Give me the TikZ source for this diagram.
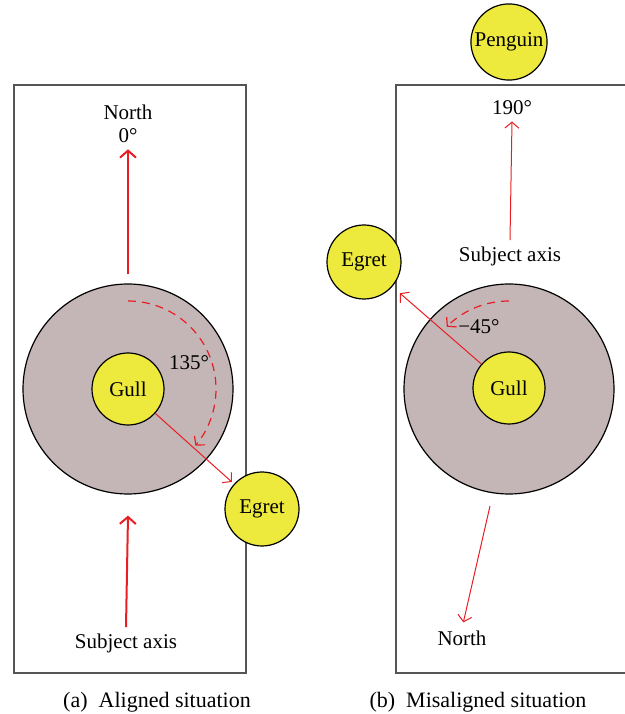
\documentclass[tikz,border=0pt]{standalone}
\usepackage{fontspec}
\setmainfont{Liberation Serif}
\newfontfamily\labelfont{Liberation Serif}
\usetikzlibrary{positioning,arrows.meta}
\definecolor{ringgray}{RGB}{196,182,182}
\definecolor{birdyellow}{RGB}{237,233,61}
\definecolor{arrowred}{RGB}{232,30,36}
\definecolor{boxgray}{RGB}{85,85,85}
\tikzset{mybird/.style={
  shape=circle,
  draw=black,
  fill=birdyellow,
  line width=0.6pt,
  minimum size=37pt,
  inner sep=0pt,
  text = black,
  },
  myring/.style={
  shape=circle,
  draw=black,
  fill=ringgray,
  line width=0.6pt,
  minimum size=105pt,
  inner sep=0pt,
  },
  myframe/.style={draw=boxgray, line width=0.8pt},
  redarrow/.style={draw=arrowred, line width=0.8pt, -{Straight Barb[length=3.5pt,width=8pt]}},
  thinarrow/.style={draw=arrowred, line width=0.5pt, -{Straight Barb[length=3pt,width=7pt]}},
  dasharc/.style={draw=arrowred, line width=0.6pt, dash pattern=on 4pt off 3pt, -{Straight Barb[length=3pt,width=7pt]}},
  mylabel/.style={font=\labelfont\fontsize{10.5}{12.5}\selectfont, inner sep=1pt, align=center},
}

\begin{document}
\begin{tikzpicture}[x=0.5pt, y=0.5pt]
      \useasboundingbox (0,0) rectangle (625,714);
      \clip (0,0) rectangle (625,714);

      % (a) aligned situation
      \draw [myframe] (14,41) rectangle (246,629);
      \node [myring] (ringA) at (128,325) {};
      \node [mybird, minimum size=36pt, mylabel] (gullA) at (128,325) {Gull};
      \node [mybird, mylabel] (egretA) at (262,205) {Egret};
      \node [mylabel] (northA) at (128,590) {North\\[-1pt]0\textdegree};
      \node [mylabel] (axisA) at (126,71) {Subject axis};
      \node [mylabel] (angA) at (189,351) {135\textdegree};

      \draw [redarrow, line width=1pt] ([yshift=4.5pt]ringA.north) -- ([yshift=-2pt]northA.south);
      \draw [redarrow, line width=1pt] ([yshift=2pt]axisA.north) -- ([yshift=-10.5pt]ringA.south);
      \draw [thinarrow, shorten >=1.5pt] (gullA) -- (egretA);
      \draw [dasharc] ([shift={(90:44pt)}]ringA.center) arc [start angle=90, end angle=-40, radius=44pt];

      % (b) misaligned situation
      \draw [myframe] (396,41) rectangle (640,629);
      \node [mybird, mylabel] (penguinB) at (509,672) {Penguin};
      \node [myring] (ringB) at (509,325) {};
      \node [mybird, minimum size=36pt, mylabel] (gullB) at (509,326) {Gull};
      \node [mybird, mylabel] (egretB) at (364,452) {Egret};
      \node [mylabel] (degB) at (512,606) {190\textdegree};
      \node [mylabel] (axisB) at (510,458) {Subject axis};
      \node [mylabel] (northB) at (462,76) {North};
      \node [mylabel] (angB) at (479,387) {\textminus45\textdegree};
      \coordinate (tailB) at (490,208);

      \draw [thinarrow] ([yshift=2pt]axisB.north) -- ([yshift=-2pt]degB.south);
      \draw [thinarrow, shorten >=5pt] (gullB) -- (egretB);
      \draw [thinarrow, shorten >=3pt] (tailB) -- (northB.north);
      \draw [dasharc] ([shift={(90:44pt)}]ringB.center) arc [start angle=90, end angle=135, radius=44pt];

      \node [mylabel, font=\labelfont\fontsize{11}{13}\selectfont] (capA) at (157,12) {(a)\enspace Aligned situation};
      \node [mylabel, font=\labelfont\fontsize{11}{13}\selectfont] (capB) at (478,12) {(b)\enspace Misaligned situation};
\end{tikzpicture}
\end{document}
